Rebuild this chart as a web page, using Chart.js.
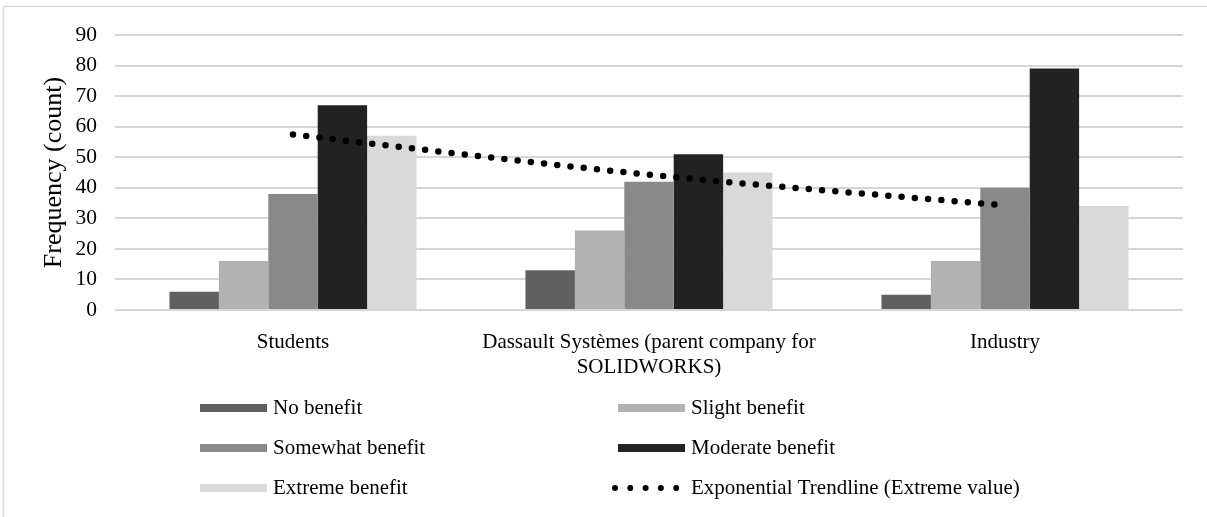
<!DOCTYPE html>
<html>
<head>
<meta charset="utf-8">
<script src="https://cdn.jsdelivr.net/npm/chart.js@4.4.1/dist/chart.umd.min.js"></script>
<style>
  html, body { margin: 0; padding: 0; background: #ffffff; }
  canvas { display: block; }
</style>
</head>
<body>
<canvas id="chart" width="1207" height="517"></canvas>
<script>
// Survey responses: perceived benefit, by respondent group
const categories = ['Students', ['Dassault Systèmes (parent company for', 'SOLIDWORKS)'], 'Industry'];
const noBenefit       = [6, 13, 5];
const slightBenefit   = [16, 26, 16];
const somewhatBenefit = [38, 42, 40];
const moderateBenefit = [67, 51, 79];
const extremeBenefit  = [57, 45, 34];
// exponential trendline through the "Extreme benefit" counts
const extremeTrend    = [57.4, 44.3, 34.2];
const yTicks = [0, 10, 20, 30, 40, 50, 60, 70, 80, 90];

const SERIF = '"Liberation Serif", "Times New Roman", serif';

// thin frame along the top and left edges
const framePlugin = {
  id: 'frame',
  beforeDraw(chart) {
    const ctx = chart.ctx;
    ctx.save();
    ctx.strokeStyle = '#d9d9d9';
    ctx.lineWidth = 1.5;
    ctx.beginPath();
    ctx.moveTo(chart.width, 6.5);
    ctx.lineTo(3.5, 6.5);
    ctx.lineTo(3.5, chart.height);
    ctx.stroke();
    ctx.restore();
  }
};

// two-column legend under the plot
const gridLegend = {
  id: 'gridLegend',
  afterDraw(chart) {
    const ctx = chart.ctx;
    const cols = [200, 618];
    const rows = [408, 448, 488];
    const boxW = 67, boxH = 8, gap = 6;
    chart.data.datasets.forEach((ds, i) => {
      const x = cols[i % 2];
      const y = rows[Math.floor(i / 2)];
      ctx.save();
      if (ds.type === 'line') {
        ctx.fillStyle = ds.borderColor;
        for (let k = 0; k < 5; k++) {
          ctx.beginPath();
          ctx.arc(x - 3 + k * 15.3, y, 3, 0, Math.PI * 2);
          ctx.fill();
        }
      } else {
        ctx.fillStyle = ds.backgroundColor;
        ctx.fillRect(x, y - boxH / 2, boxW, boxH);
      }
      ctx.fillStyle = '#000000';
      ctx.font = '21px ' + SERIF;
      ctx.textBaseline = 'middle';
      ctx.textAlign = 'left';
      ctx.fillText(ds.label, x + boxW + gap, y);
      ctx.restore();
    });
  }
};

const barDefaults = { type: 'bar', order: 1, borderWidth: 0, categoryPercentage: 0.694, barPercentage: 1.0 };

new Chart(document.getElementById('chart'), {
  data: {
    labels: categories,
    datasets: [
      { ...barDefaults, label: 'No benefit',       data: noBenefit,       backgroundColor: '#606060' },
      { ...barDefaults, label: 'Slight benefit',   data: slightBenefit,   backgroundColor: '#b2b2b2' },
      { ...barDefaults, label: 'Somewhat benefit', data: somewhatBenefit, backgroundColor: '#898989' },
      { ...barDefaults, label: 'Moderate benefit', data: moderateBenefit, backgroundColor: '#222222' },
      { ...barDefaults, label: 'Extreme benefit',  data: extremeBenefit,  backgroundColor: '#d9d9d9' },
      {
        type: 'line', order: 0,
        label: 'Exponential Trendline (Extreme value)',
        data: extremeTrend,
        borderColor: '#000000',
        backgroundColor: '#000000',
        borderWidth: 6.5,
        borderDash: [0, 13.3],
        borderCapStyle: 'round',
        cubicInterpolationMode: 'monotone',
        pointRadius: 0,
        pointHoverRadius: 0,
        fill: false
      }
    ]
  },
  options: {
    responsive: false,
    animation: false,
    layout: { padding: { left: 0, top: 35, right: 24, bottom: 137 } },
    plugins: {
      legend: { display: false },
      tooltip: { enabled: false }
    },
    scales: {
      x: {
        grid: { display: false },
        border: { display: false },
        ticks: {
          color: '#000000',
          font: { family: SERIF, size: 21 },
          padding: 12,
          maxRotation: 0,
          autoSkip: false
        },
        afterFit(scale) { scale.height = 70; }
      },
      y: {
        min: yTicks[0],
        max: yTicks[yTicks.length - 1],
        grid: { color: '#d6d6d6', lineWidth: 2, drawTicks: false },
        border: { display: false },
        ticks: {
          stepSize: yTicks[1] - yTicks[0],
          color: '#000000',
          font: { family: SERIF, size: 21.5 },
          padding: 18
        },
        title: {
          display: true,
          text: 'Frequency (count)',
          color: '#000000',
          font: { family: SERIF, size: 26 },
          padding: { top: 39, bottom: 0 }
        },
        afterFit(scale) { scale.width = 115; }
      }
    }
  },
  plugins: [framePlugin, gridLegend]
});
</script>
</body>
</html>
